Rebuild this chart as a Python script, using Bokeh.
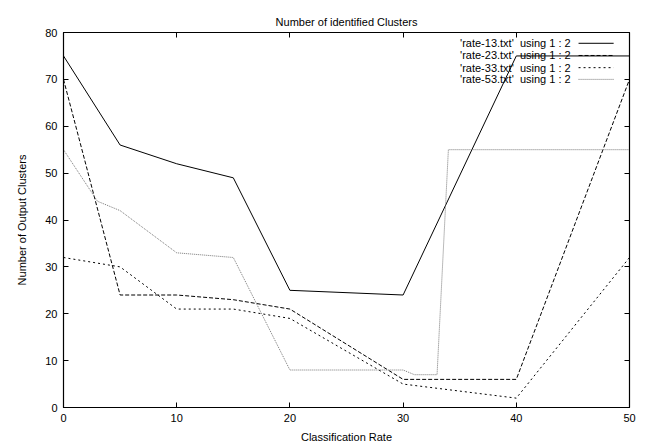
from bokeh.plotting import figure
from bokeh.models import Range1d, LinearAxis, FixedTicker
from bokeh.core.properties import value
from bokeh.embed import file_html
from bokeh.resources import INLINE

# ---- data ----
x13 = [0, 5, 10, 15, 20, 30, 40, 50]
y13 = [75, 56, 52, 49, 25, 24, 75, 75]

x23 = [0, 5, 10, 15, 20, 30, 40, 50]
y23 = [70, 24, 24, 23, 21, 6, 6, 70]

x33 = [0, 5, 10, 15, 20, 30, 40, 50]
y33 = [32, 30, 21, 21, 19, 5, 2, 32]

x53 = [0, 3, 5, 10, 15, 20, 30, 31, 33, 34, 50]
y53 = [55, 44, 42, 33, 32, 8, 8, 7, 7, 55, 55]

labels = ["'rate-13.txt' \u00a0using 1 : 2", "'rate-23.txt' \u00a0using 1 : 2",
          "'rate-33.txt' \u00a0using 1 : 2", "'rate-53.txt' \u00a0using 1 : 2"]
x_ticks = [0, 10, 20, 30, 40, 50]
y_ticks = [0, 10, 20, 30, 40, 50, 60, 70, 80]

FONT = "Liberation Sans"

p = figure(width=652, height=447, output_backend="svg", toolbar_location=None,
           x_range=Range1d(0, 50), y_range=Range1d(0, 80),
           title="Number of identified Clusters",
           min_border_left=63, min_border_right=23, min_border_top=32, min_border_bottom=40,
           frame_width=566, frame_height=375)
p.title.align = "center"
p.title.text_font = FONT
p.title.text_font_size = "11px"
p.title.text_font_style = "normal"
p.title.text_color = "black"
p.title.offset = 0

p.xgrid.visible = False
p.ygrid.visible = False
p.outline_line_color = "black"
p.outline_line_width = 1.2
p.background_fill_color = "white"
p.border_fill_color = "white"

for ax in (p.xaxis[0], p.yaxis[0]):
    ax.major_tick_in = 5
    ax.major_tick_out = 0
    ax.minor_tick_in = 0
    ax.minor_tick_out = 0
    ax.major_label_text_font = FONT
    ax.major_label_text_font_size = "11px"
    ax.major_label_text_color = "black"
    ax.axis_label_text_font = FONT
    ax.axis_label_text_font_size = "11px"
    ax.axis_label_text_font_style = "normal"
    ax.axis_label_text_color = "black"
    ax.axis_line_color = "black"
    ax.major_tick_line_color = "black"

p.xaxis[0].ticker = FixedTicker(ticks=x_ticks)
p.yaxis[0].ticker = FixedTicker(ticks=y_ticks)
p.xaxis[0].axis_label = "Classification Rate"
p.yaxis[0].axis_label = "Number of Output Clusters"
p.xaxis[0].major_label_standoff = 6
p.xaxis[0].axis_label_standoff = 6
p.yaxis[0].major_label_standoff = 6
p.yaxis[0].axis_label_standoff = 14

# mirror ticks (no labels)
top = LinearAxis(ticker=FixedTicker(ticks=x_ticks), major_tick_in=5, major_tick_out=0,
                 minor_tick_in=0, minor_tick_out=0,
                 major_label_overrides={t: "" for t in x_ticks},
                 axis_line_alpha=0, major_label_standoff=0)
right = LinearAxis(ticker=FixedTicker(ticks=y_ticks), major_tick_in=5, major_tick_out=0,
                   minor_tick_in=0, minor_tick_out=0,
                   major_label_overrides={t: "" for t in y_ticks},
                   axis_line_alpha=0, major_label_standoff=0)
p.add_layout(top, "above")
p.add_layout(right, "right")

styles = [
    dict(line_color="black", line_dash="solid"),
    dict(line_color="black", line_dash="4 2"),
    dict(line_color="black", line_dash="2 3"),
    dict(line_color="#777777", line_dash="1 1"),
]
series = [(x13, y13), (x23, y23), (x33, y33), (x53, y53)]
for (xs, ys), st in zip(series, styles):
    p.line(xs, ys, line_width=1, **st)

# legend (gnuplot style: text right-aligned, sample to the right)
leg_text_x = 44.8
leg_x0, leg_x1 = 45.5, 48.6
leg_rows = [77.7, 75.1, 72.5, 70.0]
p.text(x=[leg_text_x] * 4, y=leg_rows, text=labels, text_align="right",
       text_baseline="middle", text_font=value(FONT), text_font_size="11px",
       text_color="black")
for yy, st in zip(leg_rows, styles):
    p.line([leg_x0, leg_x1], [yy, yy], line_width=1, **st)

open("out.html", "w").write(file_html(p, INLINE))
